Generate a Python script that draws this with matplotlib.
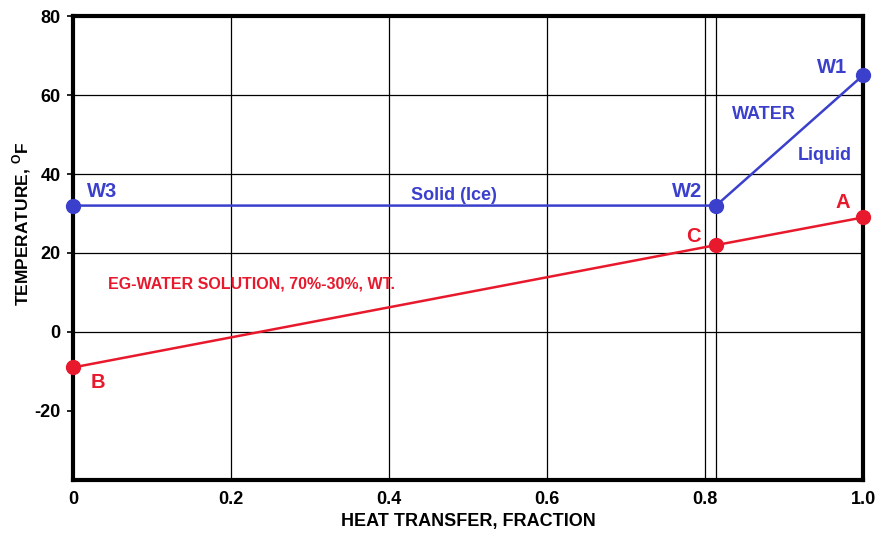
import matplotlib
matplotlib.use("Agg")
import matplotlib.pyplot as plt

plt.rcParams['font.family'] = ['Liberation Sans', 'DejaVu Sans']
plt.rcParams['font.weight'] = 'bold'
plt.rcParams['axes.unicode_minus'] = False
plt.rcParams['mathtext.fontset'] = 'custom'
plt.rcParams['mathtext.rm'] = 'Liberation Sans:bold'
plt.rcParams['mathtext.bf'] = 'Liberation Sans:bold'

# Water path: W3 -> W2 -> W1
water_x = [0.0, 0.814, 1.0]
water_y = [32, 32, 65]
water_labels = ["W3", "W2", "W1"]

# EG-water solution: B -> C -> A
eg_x = [0.0, 0.814, 1.0]
eg_y = [-9, 22, 29]
eg_labels = ["B", "C", "A"]

x_ticks = [0, 0.2, 0.4, 0.6, 0.8, 1.0]
x_tick_labels = ["0", "0.2", "0.4", "0.6", "0.8", "1.0"]
y_ticks = [-20, 0, 20, 40, 60, 80]

blue = "#3b40cc"
red = "#e8192c"

fig = plt.figure(figsize=(8.75, 5.36), dpi=100)
ax = fig.add_axes([0.0834, 0.1045, 0.9029, 0.8655])

# grid
for xv in x_ticks[1:-1]:
    ax.axvline(xv, color="black", lw=0.9, zorder=1)
ax.axvline(water_x[1], color="black", lw=0.9, zorder=1)
for yv in y_ticks[1:-1]:
    ax.axhline(yv, color="black", lw=0.9, zorder=1)

ax.plot(water_x, water_y, color=blue, lw=1.8, marker='o', ms=10, zorder=3, clip_on=False)
ax.plot(eg_x, eg_y, color=red, lw=1.8, marker='o', ms=10, zorder=3, clip_on=False)

ax.set_xlim(0, 1.0)
ax.set_ylim(-37.5, 80)
ax.set_xticks(x_ticks)
ax.set_xticklabels(x_tick_labels)
ax.set_yticks(y_ticks)
ax.tick_params(axis='x', length=0, pad=8, labelsize=13)
ax.tick_params(axis='y', length=4, width=1.2, direction='out', pad=5, labelsize=13)
for sp in ax.spines.values():
    sp.set_linewidth(3)

ax.set_xlabel("HEAT TRANSFER, FRACTION", fontsize=13, fontweight='bold')
ax.xaxis.label.set_va('center')
ax.xaxis.set_label_coords(0.5, -0.0905)
ax.set_ylabel(r"TEMPERATURE, $^{\mathrm{O}}$F", fontsize=12.5, fontweight='bold')
ax.yaxis.label.set_va('center')
ax.yaxis.set_label_coords(-0.0646, 0.552)

# point labels
lab_kw = dict(fontsize=14.5, fontweight='bold', va='baseline')
ax.text(0.018, 34.2, water_labels[0], color=blue, ha='left', **lab_kw)
ax.text(0.796, 34.2, water_labels[1], color=blue, ha='right', **lab_kw)
ax.text(0.980, 65.6, water_labels[2], color=blue, ha='right', **lab_kw)
ax.text(0.984, 31.4, eg_labels[2], color=red, ha='right', **lab_kw)
ax.text(0.794, 22.8, eg_labels[1], color=red, ha='right', **lab_kw)
ax.text(0.0228, -14.2, eg_labels[0], color=red, ha='left', **lab_kw)

ax.text(0.482, 33.4, "Solid (Ice)", color=blue, fontsize=13, fontweight='bold', ha='center', va='baseline')
ax.text(0.875, 53.9, "WATER", color=blue, fontsize=13, fontweight='bold', ha='center', va='baseline')
ax.text(0.951, 43.5, "Liquid", color=blue, fontsize=13, fontweight='bold', ha='center', va='baseline')
ax.text(0.0443, 11.1, "EG-WATER SOLUTION, 70%-30%, WT.", color=red, fontsize=11.5,
        fontweight='bold', ha='left', va='baseline')

fig.savefig("out.png", dpi=100)
